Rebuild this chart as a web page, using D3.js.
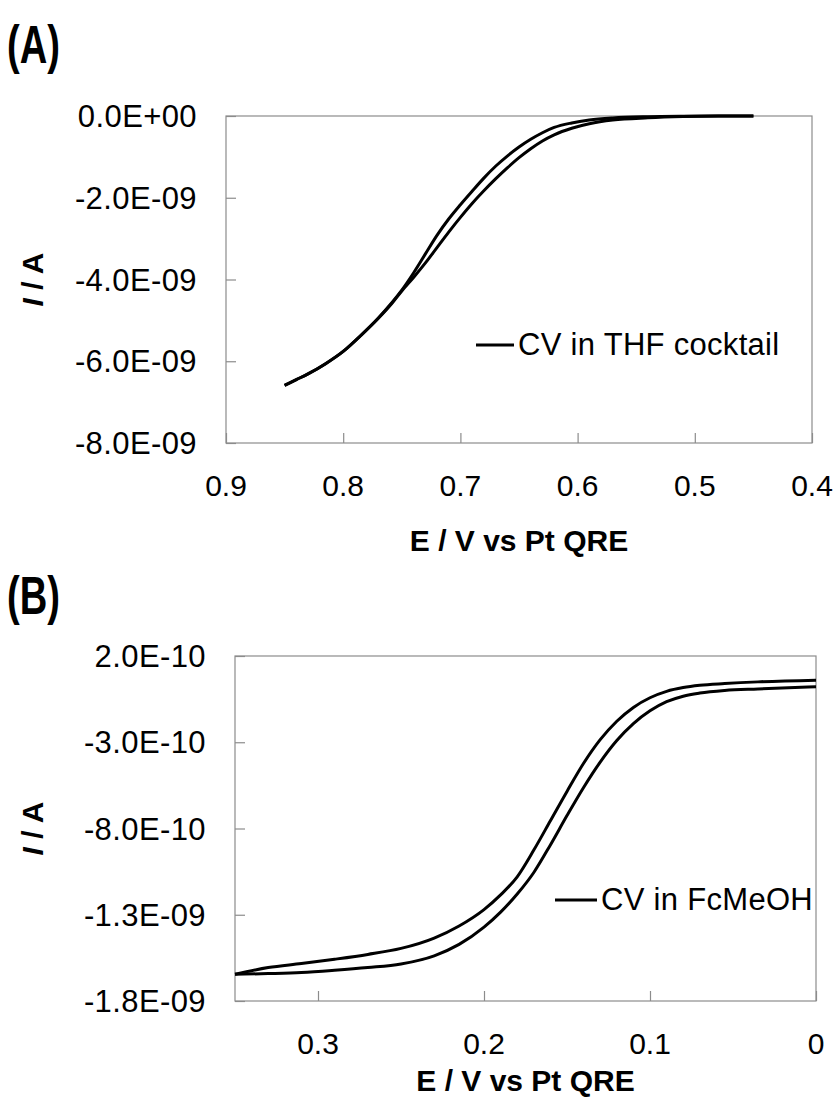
<!DOCTYPE html>
<html>
<head>
<meta charset="utf-8">
<script src="https://cdn.jsdelivr.net/npm/d3@7"></script>
<style>
  body { margin: 0; background: #fff; }
  text { font-family: "Liberation Sans", Arial, sans-serif; fill: #000; }
</style>
</head>
<body>
<div id="chart"></div>
<script>
// Panel A: CV in THF cocktail (potential in V, current in A)
const potA1 = [0.85, 0.84, 0.83, 0.815, 0.80, 0.785, 0.77, 0.758, 0.75, 0.74, 0.73, 0.72, 0.71, 0.70, 0.69, 0.68, 0.67, 0.66, 0.65, 0.64, 0.63, 0.62, 0.605, 0.59, 0.57, 0.54, 0.51, 0.48, 0.45]
const curA1 = [-6.59e-9, -6.45e-9, -6.31e-9, -6.06e-9, -5.76e-9, -5.37e-9, -4.94e-9, -4.55e-9, -4.26e-9, -3.84e-9, -3.38e-9, -2.92e-9, -2.52e-9, -2.17e-9, -1.84e-9, -1.52e-9, -1.23e-9, -0.98e-9, -0.76e-9, -0.57e-9, -0.41e-9, -0.28e-9, -0.17e-9, -0.10e-9, -0.05e-9, -0.018e-9, -0.005e-9, 0, 0]
const potA2 = [0.85, 0.84, 0.83, 0.815, 0.80, 0.785, 0.77, 0.758, 0.75, 0.74, 0.73, 0.72, 0.71, 0.70, 0.69, 0.68, 0.67, 0.66, 0.65, 0.64, 0.63, 0.62, 0.605, 0.59, 0.57, 0.54, 0.51, 0.48, 0.45]
const curA2 = [-6.59e-9, -6.45e-9, -6.31e-9, -6.06e-9, -5.76e-9, -5.37e-9, -4.95e-9, -4.57e-9, -4.28e-9, -3.95e-9, -3.60e-9, -3.22e-9, -2.84e-9, -2.48e-9, -2.14e-9, -1.83e-9, -1.54e-9, -1.27e-9, -1.02e-9, -0.80e-9, -0.61e-9, -0.46e-9, -0.30e-9, -0.19e-9, -0.10e-9, -0.045e-9, -0.015e-9, -0.003e-9, 0]

// Panel B: CV in FcMeOH
const potB1 = [0.35, 0.33, 0.31, 0.29, 0.27, 0.25, 0.23, 0.215, 0.20, 0.19, 0.18, 0.17, 0.16, 0.15, 0.14, 0.13, 0.12, 0.11, 0.10, 0.09, 0.08, 0.07, 0.055, 0.035, 0]
const curB1 = [-16.45e-10, -16.06e-10, -15.83e-10, -15.58e-10, -15.30e-10, -14.95e-10, -14.35e-10, -13.65e-10, -12.70e-10, -11.85e-10, -10.80e-10, -9.25e-10, -7.55e-10, -5.85e-10, -4.22e-10, -2.85e-10, -1.78e-10, -0.98e-10, -0.42e-10, -0.05e-10, 0.17e-10, 0.30e-10, 0.40e-10, 0.50e-10, 0.60e-10]
const potB2 = [0.35, 0.33, 0.31, 0.29, 0.27, 0.25, 0.23, 0.215, 0.20, 0.19, 0.18, 0.17, 0.16, 0.15, 0.14, 0.13, 0.12, 0.11, 0.10, 0.09, 0.08, 0.07, 0.055, 0.035, 0]
const curB2 = [-16.45e-10, -16.41e-10, -16.35e-10, -16.22e-10, -16.06e-10, -15.85e-10, -15.38e-10, -14.72e-10, -13.72e-10, -12.85e-10, -11.80e-10, -10.55e-10, -8.95e-10, -7.25e-10, -5.62e-10, -4.15e-10, -2.90e-10, -1.92e-10, -1.18e-10, -0.65e-10, -0.33e-10, -0.15e-10, 0, 0.09e-10, 0.22e-10]

// axis ticks
const xTicksA = [0.9, 0.8, 0.7, 0.6, 0.5, 0.4]
const yTicksA = [0, -2e-9, -4e-9, -6e-9, -8e-9]
const xTicksB = [0.3, 0.2, 0.1, 0]
const yTicksB = [2e-10, -3e-10, -8e-10, -1.3e-9, -1.8e-9]

const xTitle = "E / V vs Pt QRE"
const legendA = "CV in THF cocktail"
const legendB = "CV in FcMeOH"

// Excel style scientific labels, e.g. -2.0E-09
function sciLabel(v) {
  let s = v.toExponential(1).split("e")
  let exp = parseInt(s[1])
  let sign = exp < 0 ? "-" : "+"
  return s[0] + "E" + sign + String(Math.abs(exp)).padStart(2, "0")
}

function zipPoints(xs, ys) {
  return xs.map((x, i) => ({ "x": x, "y": ys[i] }))
}

function drawPanel(svg, opts) {
  let g = svg.append("g")
  let x = d3.scaleLinear().domain(opts.xDomain).range([opts.left, opts.right])
  let y = d3.scaleLinear().domain(opts.yDomain).range([opts.bottom, opts.top])
  let xLabel = opts.xFormat

  // panel letter (condensed look of the original)
  g.append("text")
    .text(opts.letter)
    .attr("transform", `translate(7,${opts.letterY}) scale(0.72,1)`)
    .attr("font-size", 53)
    .attr("font-weight", "bold")

  // frame
  g.append("rect")
    .attr("x", opts.left)
    .attr("y", opts.top)
    .attr("width", opts.right - opts.left)
    .attr("height", opts.bottom - opts.top)
    .attr("fill", "none")
    .attr("stroke", "#8c8c8c")
    .attr("stroke-width", 1.2)

  // inward ticks, labels drawn separately
  g.append("g")
    .attr("transform", `translate(0,${opts.bottom})`)
    .call(d3.axisTop(x).tickValues(opts.xTicks).tickSize(10).tickFormat(""))
  g.append("g")
    .attr("transform", `translate(${opts.left},0)`)
    .call(d3.axisRight(y).tickValues(opts.yTicks).tickSize(10).tickFormat(""))
  g.selectAll(".domain").remove()
  g.selectAll(".tick line").attr("stroke", "#8c8c8c").attr("stroke-width", 1.2)

  g.selectAll(".xlab")
    .data(opts.xTicks)
    .enter()
    .append("text")
    .attr("class", "xlab")
    .attr("x", (d) => x(d))
    .attr("y", opts.bottom + 53)
    .attr("text-anchor", "middle")
    .attr("font-size", 30)
    .text((d) => xLabel(d))

  g.selectAll(".ylab")
    .data(opts.yTicks)
    .enter()
    .append("text")
    .attr("class", "ylab")
    .attr("x", opts.left - 29)
    .attr("y", (d) => y(d) + 11)
    .attr("text-anchor", "end")
    .attr("font-size", 31)
    .attr("letter-spacing", 0.4)
    .text((d) => sciLabel(d))

  // axis titles
  g.append("text")
    .attr("x", (opts.left + opts.right) / 2)
    .attr("y", opts.xTitleY)
    .attr("text-anchor", "middle")
    .attr("font-size", 30)
    .attr("font-weight", "bold")
    .text(xTitle)

  let yt = g.append("text")
    .attr("transform", `translate(43,${(opts.top + opts.bottom) / 2}) rotate(-90)`)
    .attr("text-anchor", "middle")
    .attr("font-size", 30)
    .attr("font-weight", "bold")
  yt.append("tspan").attr("font-style", "italic").text("I")
  yt.append("tspan").text(" / A")

  // the two scans
  let line = d3.line()
    .x((d) => x(d.x))
    .y((d) => y(d.y))
    .curve(d3.curveMonotoneX)

  g.selectAll(".scan")
    .data(opts.scans)
    .enter()
    .append("path")
    .attr("class", "scan")
    .attr("d", (d) => line(d))
    .attr("fill", "none")
    .attr("stroke", "black")
    .attr("stroke-width", 3)

  // legend
  g.append("line")
    .attr("x1", opts.legX)
    .attr("x2", opts.legX + opts.legW)
    .attr("y1", opts.legY - 10)
    .attr("y2", opts.legY - 10)
    .attr("stroke", "black")
    .attr("stroke-width", 3)
  g.append("text")
    .attr("x", opts.legX + opts.legW + 4)
    .attr("y", opts.legY)
    .attr("font-size", 31)
    .attr("letter-spacing", 0.3)
    .text(opts.legend)
}

function createChart() {
  const width = 835,
    height = 1102

  const svg = d3.select("#chart").append("svg")
    .attr("width", width)
    .attr("height", height)
    .attr("viewBox", [0, 0, width, height])

  drawPanel(svg, {
    letter: "(A)", letterY: 63,
    left: 226, right: 812, top: 116, bottom: 443,
    xDomain: [0.9, 0.4], yDomain: [-8e-9, 0],
    xTicks: xTicksA, yTicks: yTicksA,
    xFormat: (d) => d.toFixed(1),
    xTitleY: 551,
    scans: [zipPoints(potA1, curA1), zipPoints(potA2, curA2)],
    legX: 476, legW: 38, legY: 355, legend: legendA
  })

  drawPanel(svg, {
    letter: "(B)", letterY: 614,
    left: 235, right: 816, top: 656, bottom: 1001,
    xDomain: [0.35, 0], yDomain: [-1.8e-9, 2e-10],
    xTicks: xTicksB, yTicks: yTicksB,
    xFormat: (d) => d === 0 ? "0" : d.toFixed(1),
    xTitleY: 1091,
    scans: [zipPoints(potB1, curB1), zipPoints(potB2, curB2)],
    legX: 555, legW: 42, legY: 910, legend: legendB
  })
}

createChart()
</script>
</body>
</html>
